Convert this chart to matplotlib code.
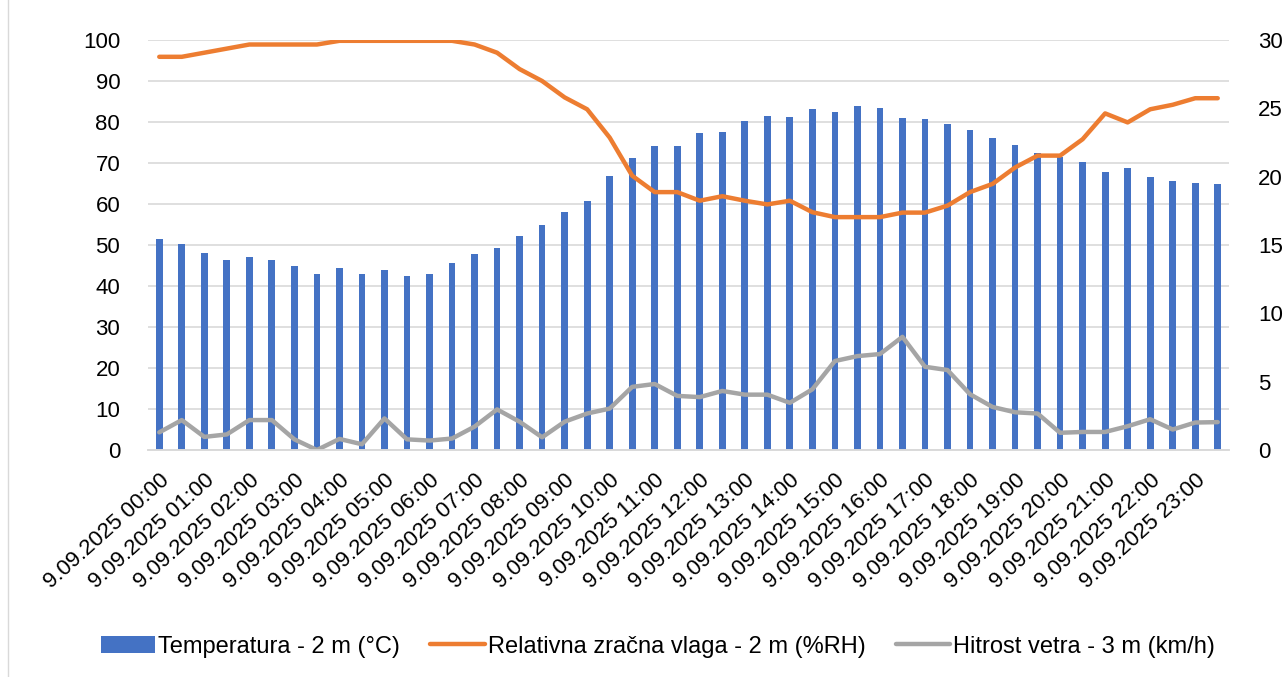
import numpy as np
import matplotlib.pyplot as plt
from matplotlib.ticker import MultipleLocator
from matplotlib.patches import Rectangle

plt.rcParams['font.family'] = ['Liberation Sans', 'DejaVu Sans']

# half-hourly readings, 9.09.2025
hours = ['9.09.2025 %02d:00' % h for h in range(24)]
temperature = [15.45, 15.1, 14.45, 13.9, 14.1, 13.9, 13.45, 12.9, 13.3, 12.85,
               13.2, 12.75, 12.85, 13.65, 14.35, 14.8, 15.65, 16.45, 17.45, 18.25,
               20.05, 21.35, 22.25, 22.25, 23.2, 23.3, 24.1, 24.45, 24.35, 24.95,
               24.75, 25.15, 25.0, 24.3, 24.2, 23.85, 23.45, 22.85, 22.35, 21.7,
               21.45, 21.05, 20.35, 20.65, 19.95, 19.65, 19.55, 19.45]
humidity = [95.9, 95.9, 96.9, 97.9, 98.9, 98.9, 98.9, 98.9, 99.8, 99.8,
            99.8, 99.8, 99.8, 99.8, 98.9, 96.9, 92.9, 90.0, 86.0, 83.1,
            76.2, 66.9, 62.9, 62.9, 60.8, 61.9, 60.8, 59.9, 60.8, 58.0,
            56.8, 56.8, 56.8, 57.9, 57.9, 59.6, 62.9, 64.9, 68.9, 71.8,
            71.8, 75.8, 82.1, 79.9, 83.1, 84.2, 85.8, 85.8]
wind = [4.3, 7.3, 3.2, 3.8, 7.3, 7.3, 2.6, 0.0, 2.7, 1.4,
        7.7, 2.6, 2.3, 2.8, 5.7, 9.9, 6.9, 3.1, 6.9, 8.9,
        10.1, 15.4, 16.1, 13.2, 12.9, 14.4, 13.5, 13.5, 11.5, 14.8,
        21.7, 22.9, 23.4, 27.6, 20.3, 19.5, 13.6, 10.5, 9.2, 8.9,
        4.2, 4.4, 4.4, 5.8, 7.5, 5.0, 6.7, 6.8]

x = np.arange(len(temperature))
fs = 16

fig = plt.figure(figsize=(12.85, 6.77), dpi=100)
fig.patches.append(Rectangle((8 / 1285, -0.01), 1.1, 1.1, transform=fig.transFigure,
                             fill=False, edgecolor='#D9D9D9', linewidth=1))
ax = fig.add_axes([148 / 1285, 227 / 677, 1081 / 1285, 410 / 677])
ax2 = ax.twinx()
ax.set_zorder(2)
ax.patch.set_visible(False)
ax2.set_zorder(1)

# temperature bars on the secondary (right) axis
ax2.bar(x, temperature, width=0.3, color='#4472C4', label='Temperatura - 2 m (°C)')
ax2.set_ylim(0, 30)
ax2.yaxis.set_major_locator(MultipleLocator(5))
ax2.yaxis.set_minor_locator(MultipleLocator(3))
ax2.yaxis.remove_overlapping_locs = False
ax2.grid(which='minor', axis='y', color='#D9D9D9', linewidth=1.2)
ax2.set_axisbelow(True)
ax2.tick_params(axis='y', which='both', length=0, labelsize=fs, pad=21)

# humidity and wind on the primary (left) axis
ax.plot(x, humidity, color='#ED7D31', linewidth=3.2, solid_capstyle='round',
        label='Relativna zračna vlaga - 2 m (%RH)')
ax.plot(x, wind, color='#A5A5A5', linewidth=3.2, solid_capstyle='round',
        label='Hitrost vetra - 3 m (km/h)')
ax.set_ylim(0, 100)
ax.set_xlim(-0.5, len(x) - 0.5)
ax.yaxis.set_major_locator(MultipleLocator(10))
ax.tick_params(axis='y', length=0, labelsize=fs, pad=20)

ax.set_xticks(x[::2])
ax.set_xticklabels(hours, rotation=42, ha='right', rotation_mode='anchor', fontsize=fs)
ax.tick_params(axis='x', length=0, pad=14)

for a in (ax, ax2):
    for side in ('top', 'left', 'right'):
        a.spines[side].set_visible(False)
    a.spines['bottom'].set_color('#D9D9D9')
    a.spines['bottom'].set_linewidth(1.2)

handles = ax2.get_legend_handles_labels()[0] + ax.get_legend_handles_labels()[0]
labels = ax2.get_legend_handles_labels()[1] + ax.get_legend_handles_labels()[1]
fig.legend(handles, labels, loc='center', bbox_to_anchor=(0.512, 0.045), ncol=3,
           frameon=False, fontsize=17, handlelength=2.3, handletextpad=0.12,
           columnspacing=1.3)

fig.savefig('out.png', dpi=100)
